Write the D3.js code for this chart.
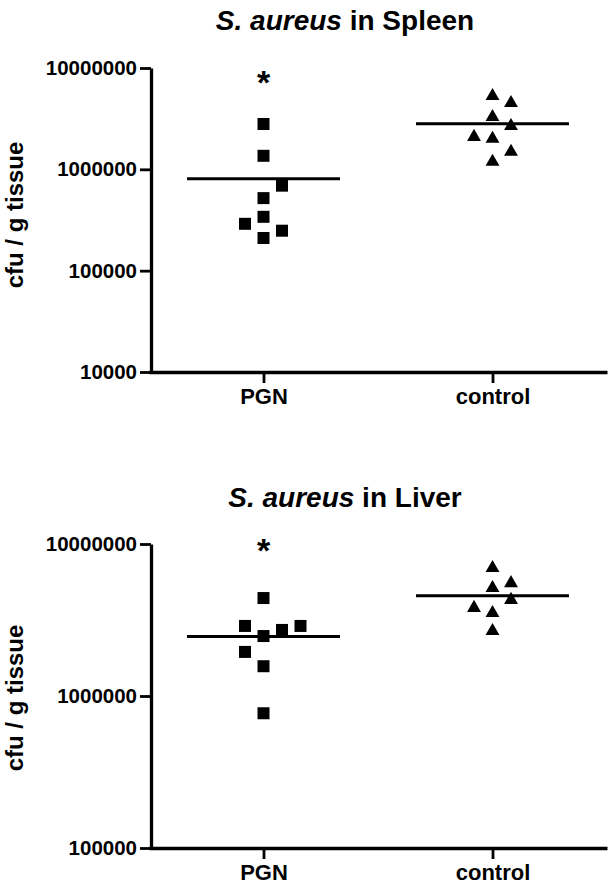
<!DOCTYPE html>
<html>
<head>
<meta charset="utf-8">
<script src="https://cdn.jsdelivr.net/npm/d3@7"></script>
<style>
  body { margin: 0; background: #fff; }
  text { font-family: "Liberation Sans", Arial, sans-serif; font-weight: bold; fill: #000; }
</style>
</head>
<body>
<div id="root"></div>
<script>
const width = 612;
const height = 894;

// categories
const groups = ["PGN", "control"];
const significant = ["PGN"];

// tick values for each panel
const spleenTicks = [1e4, 1e5, 1e6, 1e7];
const liverTicks = [1e5, 1e6, 1e7];

// cfu / g tissue; slot = horizontal jitter column
const spleenPGN = [2.8e6, 1.36e6, 6.9e5, 5.2e5, 3.4e5, 2.9e5, 2.48e5, 2.1e5];
const spleenPGNSlot = [0, 0, 1, 0, 0, -1, 1, 0];
const spleenControl = [5.3e6, 4.52e6, 3.29e6, 2.68e6, 2.09e6, 2.0e6, 1.49e6, 1.19e6];
const spleenControlSlot = [0, 1, 0, 1, -1, 0, 1, 0];

const liverPGN = [4.41e6, 2.89e6, 2.89e6, 2.72e6, 2.48e6, 1.95e6, 1.57e6, 7.7e5];
const liverPGNSlot = [0, -1, 2, 1, 0, -1, 0, 0];
const liverControl = [6.95e6, 5.53e6, 5.14e6, 4.29e6, 3.80e6, 3.52e6, 2.68e6];
const liverControlSlot = [0, 1, 0, 1, -1, 0, 0];

const panels = [
	{
		organ: "Spleen", top: 68, bottom: 372, ticks: spleenTicks, titleY: 30, labelShift: -5, starY: 26,
		series: [
			{ group: "PGN", values: spleenPGN, slots: spleenPGNSlot, shape: d3.symbolSquare, size: 144 },
			{ group: "control", values: spleenControl, slots: spleenControlSlot, shape: d3.symbolTriangle, size: 84 }
		]
	},
	{
		organ: "Liver", top: 544, bottom: 848, ticks: liverTicks, titleY: 507, labelShift: 2, starY: 18,
		series: [
			{ group: "PGN", values: liverPGN, slots: liverPGNSlot, shape: d3.symbolSquare, size: 144 },
			{ group: "control", values: liverControl, slots: liverControlSlot, shape: d3.symbolTriangle, size: 84 }
		]
	}
];

const svg = d3.select("#root")
	.append("svg")
		.attr("width", width)
		.attr("height", height);

const x = d3.scalePoint()
	.domain(groups)
	.range([149, 607])
	.padding(0.5);

const slotStep = 18.5;
const meanHalf = 76.5;

panels.forEach(p => drawPanel(p));

function drawPanel(p) {
	const g = svg.append("g");

	const y = d3.scaleLog()
		.domain(d3.extent(p.ticks))
		.range([p.bottom, p.top]);

	// title
	const title = g.append("text")
		.attr("x", 345)
		.attr("y", p.titleY)
		.attr("text-anchor", "middle")
		.style("font-size", "28px");
	title.append("tspan").style("font-style", "italic").text("S. aureus");
	title.append("tspan").text(" in " + p.organ);

	// y axis
	const yAxis = g.append("g")
		.attr("transform", "translate(151,0)")
		.call(d3.axisLeft(y)
			.tickValues(p.ticks)
			.tickFormat(d3.format("d"))
			.tickSize(11)
			.tickSizeOuter(0)
			.tickPadding(3));
	yAxis.select(".domain").attr("stroke-width", 3.3);
	yAxis.selectAll(".tick line").attr("stroke-width", 2.8);
	yAxis.selectAll(".tick text").style("font-size", "20.5px");

	// x axis
	const xAxis = g.append("g")
		.attr("transform", `translate(0,${p.bottom})`)
		.call(d3.axisBottom(x)
			.tickSize(11)
			.tickSizeOuter(0)
			.tickPadding(5));
	xAxis.select(".domain").attr("stroke-width", 3.5);
	xAxis.selectAll(".tick line").attr("stroke-width", 2.8);
	xAxis.selectAll(".tick text").style("font-size", "22px");

	// y axis title
	g.append("text")
		.attr("transform", `translate(23,${(p.top + p.bottom) / 2 + p.labelShift}) rotate(-90)`)
		.attr("text-anchor", "middle")
		.style("font-size", "24px")
		.text("cfu / g tissue");

	// points + mean lines
	p.series.forEach(s => {
		const cx = x(s.group);
		g.selectAll(null)
			.data(s.values)
			.enter()
			.append("path")
				.attr("d", d3.symbol().type(s.shape).size(s.size))
				.attr("transform", (d, i) => `translate(${cx + s.slots[i] * slotStep},${y(d)})`)
				.attr("fill", "#000");

		const m = d3.mean(s.values);
		g.append("line")
			.attr("x1", cx - meanHalf)
			.attr("x2", cx + meanHalf)
			.attr("y1", y(m))
			.attr("y2", y(m))
			.attr("stroke", "#000")
			.attr("stroke-width", 3);

		if (significant.includes(s.group)) {
			g.append("text")
				.attr("x", cx)
				.attr("y", p.top + p.starY)
				.attr("text-anchor", "middle")
				.style("font-size", "34px")
				.text("*");
		}
	});
}
</script>
</body>
</html>
